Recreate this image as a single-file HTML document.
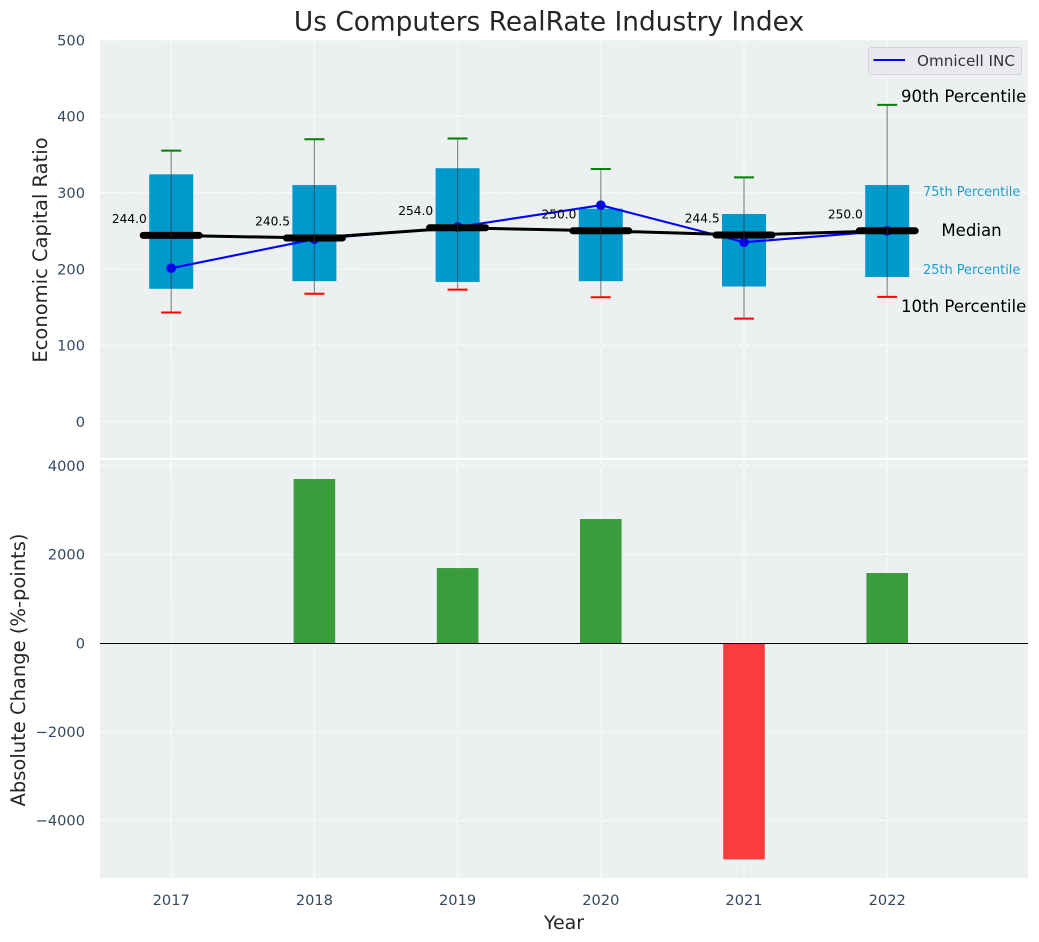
<!DOCTYPE html>
<html lang="en">
<head>
<meta charset="utf-8">
<title>Us Computers RealRate Industry Index</title>
<style>
html,body{margin:0;padding:0;background:#fff;width:1039px;height:942px;overflow:hidden}
svg{display:block;font-family:"DejaVu Sans","Liberation Sans",sans-serif}
</style>
</head>
<body>
<svg id="chart" width="1039" height="942" viewBox="0 0 1039 942" xmlns="http://www.w3.org/2000/svg">
<text x="549" y="30.5" font-size="26.4" fill="#262626" text-anchor="middle">Us Computers RealRate Industry Index</text>
<rect x="100" y="40" width="928" height="418" fill="#ecf0f1"/>
<rect x="100" y="460" width="928" height="418" fill="#ecf0f1"/>
<g id="grid"></g>
<g id="bars"></g>
<g id="boxes"></g>
<g id="lines"></g>
<g id="whiskers"></g>
<g id="labels"></g>
<g id="ticks"></g>
<rect x="100" y="643" width="928" height="1" fill="#000"/>
<text transform="translate(47,250) rotate(-90)" font-size="19.5" fill="#262626" text-anchor="middle">Economic Capital Ratio</text>
<text transform="translate(25,670) rotate(-90)" font-size="19.5" fill="#262626" text-anchor="middle">Absolute Change (%-points)</text>
<text x="564" y="929" font-size="19" fill="#262626" text-anchor="middle">Year</text>
<g>
<rect x="868.5" y="47.5" width="153" height="27" rx="3" fill="#e9e9ef" stroke="#d4d4d8"/>
<line x1="873.5" x2="905" y1="60" y2="60" stroke="#0000ff" stroke-width="2"/>
<text x="917" y="66" font-size="15.2" fill="#333">Omnicell INC</text>
</g>
<g>
<text x="901" y="102" font-size="16.6" fill="#000">90th Percentile</text>
<text x="923" y="196" font-size="12.9" fill="#1a9fd0">75th Percentile</text>
<text x="971.5" y="236" font-size="16.6" fill="#000" text-anchor="middle">Median</text>
<text x="923" y="274" font-size="12.9" fill="#1a9fd0">25th Percentile</text>
<text x="901" y="312" font-size="16.6" fill="#000">10th Percentile</text>
</g>
<script>
const years = [2017, 2018, 2019, 2020, 2021, 2022];
const p90 = [355, 370, 371, 331, 320, 415];
const p75 = [324, 310, 332, 279, 272, 310];
const medians = [244, 240.5, 254, 250, 244.5, 250];
const p25 = [174, 184, 183, 184, 177, 189.5];
const p10 = [143, 167.5, 173, 163, 135, 163.5];
const omnicell = [201, 239, 255, 283.5, 235, 250];
const changes = [0, 3698, 1690, 2795, -4880, 1578];
const topTicks = [0, 100, 200, 300, 400, 500];
const bottomTicks = [-4000, -2000, 0, 2000, 4000];

const NS = 'http://www.w3.org/2000/svg';
const xPos = i => 171.2 + i * 143.2;
const yTop = v => 421.6 - v * 0.7632;
const yBottom = v => 643 - v * 0.04435;

function make(parent, tag, attrs) {
  const el = document.createElementNS(NS, tag);
  for (const k in attrs) el.setAttribute(k, attrs[k]);
  document.getElementById(parent).appendChild(el);
  return el;
}
const gridStyle = {stroke: '#ffffff', 'stroke-width': 1.2, 'stroke-dasharray': '5 2.5', 'stroke-opacity': 0.8};

topTicks.forEach(v => {
  const gl = make('grid', 'line', Object.assign({x1: 100, x2: 1028, y1: yTop(v), y2: yTop(v)}, gridStyle));
  
  
  const t = make('ticks', 'text', {x: 85, y: yTop(v) + 5.3, 'font-size': 14.6, fill: '#34495e', 'text-anchor': 'end'});
  t.textContent = String(v);
  
  
});
bottomTicks.forEach(v => {
  const gl = make('grid', 'line', Object.assign({x1: 100, x2: 1028, y1: yBottom(v), y2: yBottom(v)}, gridStyle));
  
  
  const t = make('ticks', 'text', {x: 85, y: yBottom(v) + 5.3, 'font-size': 14.6, fill: '#34495e', 'text-anchor': 'end'});
  t.textContent = String(v).replace('-', '\u2212');
  
  
});

years.forEach((yr, i) => {
  const x = xPos(i);
  const g1 = make('grid', 'line', Object.assign({x1: x, x2: x, y1: 40, y2: 458}, gridStyle));
  
  
  const g2 = make('grid', 'line', Object.assign({x1: x, x2: x, y1: 460, y2: 878}, gridStyle));
  
  
  const t = make('ticks', 'text', {x: x, y: 905, 'font-size': 14.6, fill: '#34495e', 'text-anchor': 'middle'});
  t.textContent = String(yr);
  
  

  const c = changes[i];
  if (c !== 0) {
    const top = Math.min(yBottom(c), yBottom(0));
    const bar = make('bars', 'rect', {x: x - 20.8, y: top, width: 41.6, height: Math.abs(yBottom(c) - yBottom(0)), fill: c >= 0 ? '#008000' : '#ff0000', 'fill-opacity': 0.75});
    
    
  }

  const box = make('boxes', 'rect', {x: x - 22, y: yTop(p75[i]), width: 44, height: yTop(p25[i]) - yTop(p75[i]), fill: '#0099cc'});
  
  
});

const linePoints = arr => arr.map((v, i) => xPos(i) + ',' + yTop(v)).join(' ');
const blue = make('lines', 'polyline', {points: linePoints(omnicell), fill: 'none', stroke: '#0000ff', 'stroke-width': 2.1});


omnicell.forEach((v, i) => {
  const dot = make('lines', 'circle', {cx: xPos(i), cy: yTop(v), r: 4.8, fill: '#0000ff'});
  
  
});
const black = make('lines', 'polyline', {points: linePoints(medians), fill: 'none', stroke: '#000', 'stroke-width': 3});



medians.forEach((v, i) => {
  const x = xPos(i);
  const m = make('lines', 'line', {x1: x - 28, x2: x + 28, y1: yTop(v), y2: yTop(v), stroke: '#000', 'stroke-width': 7, 'stroke-linecap': 'round'});
  
  
  const w = make('whiskers', 'line', {x1: x, x2: x, y1: yTop(p90[i]), y2: yTop(p10[i]), stroke: '#333', 'stroke-opacity': 0.55, 'stroke-width': 1.2});
  
  
  const hi = make('whiskers', 'line', {x1: x - 10, x2: x + 10, y1: yTop(p90[i]), y2: yTop(p90[i]), stroke: '#008000', 'stroke-width': 2});
  
  
  const lo = make('whiskers', 'line', {x1: x - 10, x2: x + 10, y1: yTop(p10[i]), y2: yTop(p10[i]), stroke: '#ff0000', 'stroke-width': 2});
  
  
  const lab = make('labels', 'text', {x: x - 24.4, y: yTop(v) - 12.5, 'font-size': 12.2, fill: '#000', 'text-anchor': 'end'});
  lab.textContent = v.toFixed(1);
  
  
});
</script>
</svg>
</body>
</html>
